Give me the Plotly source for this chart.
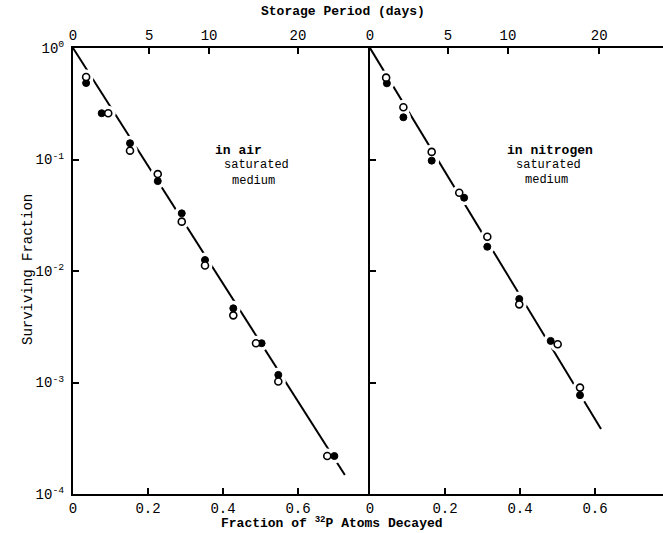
import plotly.graph_objects as go

# ---------------- data ----------------
air_x_open = [0.035, 0.094, 0.152, 0.226, 0.290, 0.352, 0.4275, 0.488, 0.5475, 0.678]
air_y_open = [0.55, 0.26, 0.12, 0.074, 0.0277, 0.0112, 0.0040, 0.00225, 0.00102, 0.000219]
air_x_filled = [0.035, 0.0765, 0.152, 0.226, 0.290, 0.352, 0.4275, 0.503, 0.5475, 0.697]
air_y_filled = [0.485, 0.26, 0.14, 0.064, 0.0329, 0.01255, 0.00463, 0.00225, 0.00117, 0.000219]
air_fit_x = [0.0, 0.725]
air_fit_y = [1.0, 1.48e-4]

n2_x_open = [0.043, 0.089, 0.1645, 0.238, 0.3128, 0.398, 0.5005, 0.56]
n2_y_open = [0.542, 0.294, 0.117, 0.0504, 0.0203, 0.00502, 0.0022, 0.0009]
n2_x_filled = [0.045, 0.089, 0.1645, 0.251, 0.3128, 0.398, 0.4818, 0.56]
n2_y_filled = [0.482, 0.239, 0.0977, 0.0454, 0.0165, 0.00561, 0.00236, 0.00077]
n2_fit_x = [0.0, 0.616]
n2_fit_y = [1.0, 3.83e-4]

frac_ticks = [0, 0.2, 0.4, 0.6]
frac_labels = ["0", "0.2", "0.4", "0.6"]
day_labels = ["0", "5", "10", "20"]
day_pos_left = [0, 0.203, 0.363, 0.600]
day_pos_right = [0, 0.208, 0.368, 0.611]
y_ticks = [1e0, 1e-1, 1e-2, 1e-3, 1e-4]
y_labels = ["10<sup>0</sup>", "10<sup>-1</sup>", "10<sup>-2</sup>", "10<sup>-3</sup>", "10<sup>-4</sup>"]

FONT = "Liberation Mono"
W, H = 663, 533
ML, MR, MT, MB = 73, 0, 48, 39
PW, PH = W - ML - MR, H - MT - MB
split = (370 - ML) / PW


def px(x):
    return (x - ML) / PW


def py(y):
    return (H - MB - y) / PH


fig = go.Figure()


def add_panel(xa, fx, fy, xo, yo, xf, yf):
    ya = "y" if xa == "x" else "y2"
    fig.add_trace(go.Scatter(x=fx, y=fy, mode="lines", xaxis=xa, yaxis=ya,
                             line=dict(color="black", width=2), showlegend=False, hoverinfo="skip"))
    fig.add_trace(go.Scatter(x=xo + xf, y=yo + yf, mode="markers", xaxis=xa, yaxis=ya,
                             marker=dict(color="white", size=15, line=dict(width=0)),
                             showlegend=False, hoverinfo="skip"))
    fig.add_trace(go.Scatter(x=xf, y=yf, mode="markers", xaxis=xa, yaxis=ya,
                             marker=dict(color="black", size=7, line=dict(color="black", width=1)),
                             showlegend=False))
    fig.add_trace(go.Scatter(x=xo, y=yo, mode="markers", xaxis=xa, yaxis=ya,
                             marker=dict(color="white", size=7, line=dict(color="black", width=1.6)),
                             showlegend=False))


add_panel("x", air_fit_x, air_fit_y, air_x_open, air_y_open, air_x_filled, air_y_filled)
add_panel("x2", n2_fit_x, n2_fit_y, n2_x_open, n2_y_open, n2_x_filled, n2_y_filled)

# invisible traces to anchor the top axes
fig.add_trace(go.Scatter(x=[0], y=[1], xaxis="x3", yaxis="y", mode="markers",
                         marker=dict(opacity=0), showlegend=False, hoverinfo="skip"))
fig.add_trace(go.Scatter(x=[0], y=[1], xaxis="x4", yaxis="y2", mode="markers",
                         marker=dict(opacity=0), showlegend=False, hoverinfo="skip"))

tickfont = dict(family=FONT, size=14, color="black")
xrange_left = [0, (370 - ML) / 375]
xrange_right = [0, (W - 370) / 375]

common_x = dict(showgrid=False, zeroline=False, showline=True, linecolor="black", linewidth=2,
                ticks="inside", ticklen=6, tickwidth=2, tickcolor="black", tickfont=tickfont)

fig.update_layout(
    width=W, height=H,
    margin=dict(l=ML, r=MR, t=MT, b=MB, pad=0),
    paper_bgcolor="white", plot_bgcolor="white",
    xaxis=dict(domain=[0, split], range=xrange_left, tickvals=frac_ticks, ticktext=frac_labels,
               anchor="y", **common_x),
    xaxis2=dict(domain=[split, 1], range=xrange_right, tickvals=frac_ticks, ticktext=frac_labels,
                anchor="y2", **common_x),
    xaxis3=dict(overlaying="x", side="top", anchor="y", range=xrange_left,
                tickvals=day_pos_left, ticktext=day_labels, **common_x),
    xaxis4=dict(overlaying="x2", side="top", anchor="y2", range=xrange_right,
                tickvals=day_pos_right, ticktext=day_labels, **common_x),
    yaxis=dict(type="log", range=[-4, 0], domain=[0, 1], anchor="x", tickvals=y_ticks, ticktext=y_labels,
               showgrid=False, zeroline=False, showline=True, linecolor="black", linewidth=2,
               ticks="inside", ticklen=6, tickwidth=2, tickcolor="black", tickfont=tickfont,
               ticklabelstandoff=4),
    yaxis2=dict(type="log", range=[-4, 0], domain=[0, 1], anchor="x2", tickvals=y_ticks,
                showticklabels=False,
                showgrid=False, zeroline=False, showline=True, linecolor="black", linewidth=2,
                ticks="inside", ticklen=6, tickwidth=2, tickcolor="black"),
)


def label(text, x, y, xanchor="center", angle=0, size=13):
    fig.add_annotation(text=text, x=px(x), y=py(y), xref="paper", yref="paper",
                       xanchor=xanchor, yanchor="middle", showarrow=False, textangle=angle,
                       font=dict(family=FONT, size=size, color="black"))


label("<b>Storage Period (days)</b>", 343, 12)
label("<b>Fraction of <sup>32</sup>P Atoms Decayed</b>", 332, 522)
label("Surviving Fraction", 28, 270, angle=-90, size=14)

label("<b>in air</b>", 213, 150, xanchor="left")
label("saturated", 222, 165, xanchor="left", size=12)
label("medium", 230, 181, xanchor="left", size=12)

label("<b>in nitrogen</b>", 505, 150, xanchor="left")
label("saturated", 514, 165, xanchor="left", size=12)
label("medium", 523, 180, xanchor="left", size=12)

fig.write_html("out.html")
